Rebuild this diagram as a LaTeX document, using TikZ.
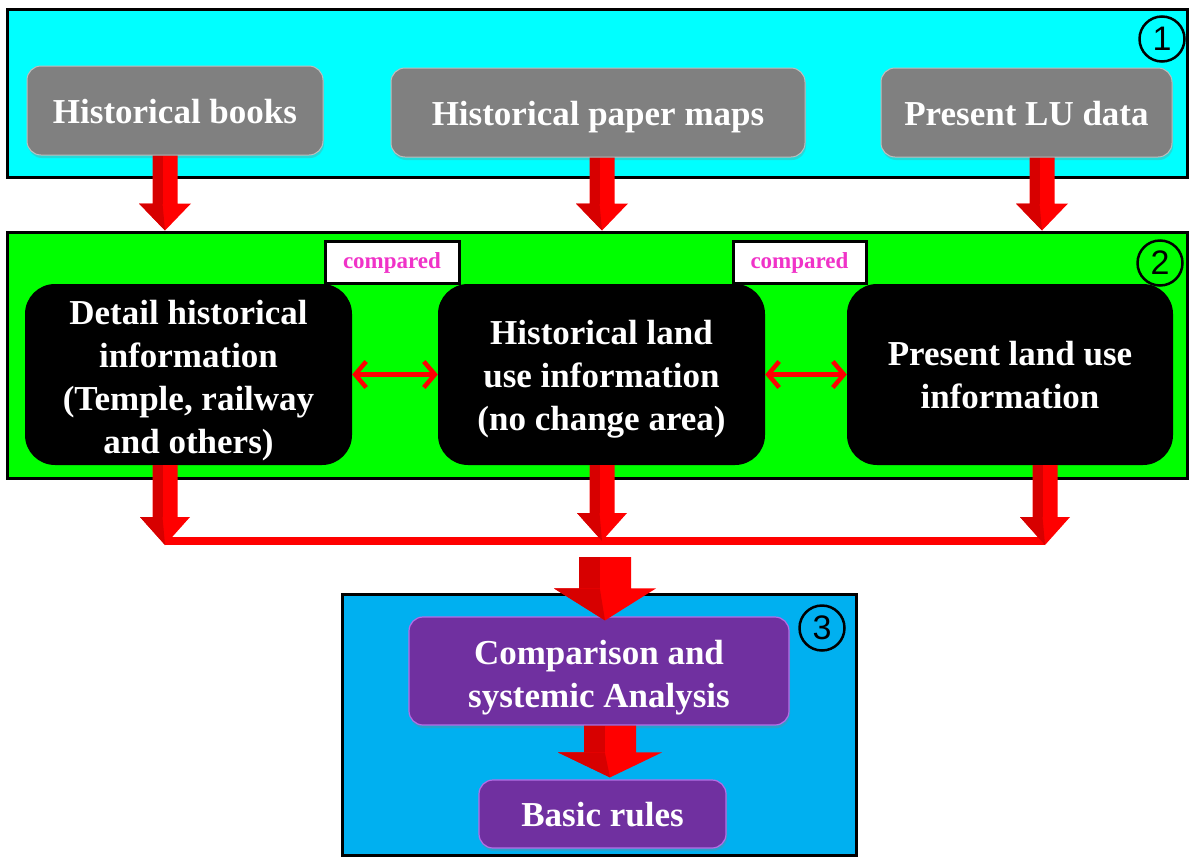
\documentclass[tikz,border=0pt]{standalone}
\usepackage{fontspec}
\setmainfont{Liberation Serif}
\newfontfamily\numfont{Liberation Sans}
\usetikzlibrary{calc,arrows.meta,shadows}
\definecolor{cyanbg}{RGB}{0,255,255}
\definecolor{greenbg}{RGB}{0,255,0}
\definecolor{bluebg}{RGB}{0,176,240}
\definecolor{graybox}{RGB}{128,128,128}
\definecolor{grayedge}{RGB}{190,190,190}
\definecolor{purplebox}{RGB}{112,48,160}
\definecolor{purpleedge}{RGB}{180,110,230}
\definecolor{pinktext}{RGB}{240,50,200}
\definecolor{arrowred}{RGB}{255,0,0}
\definecolor{arrowdark}{RGB}{215,0,0}
% block arrow: #1 start, #2 tip (same x), #3 half shaft, #4 half head, #5 head length
\newcommand\blockarr[5]{%
  \fill[arrowred] ($(#1)+(-#3,0)$) -- ($(#1)+(#3,0)$) -- ($(#2)+(#3,-#5)$) -- ($(#2)+(#4,-#5)$)
    -- (#2) -- ($(#2)+(-#4,-#5)$) -- ($(#2)+(-#3,-#5)$) -- cycle;
  \fill[arrowdark] ($(#1)+(-#3,0)$) -- ($(#1)+(-#3*0.2,0)$) -- ($(#2)+(-#3*0.2,-#5)$) -- ($(#2)+(-#3,-#5)$) -- cycle;
  \fill[arrowdark] ($(#2)+(-#4,-#5)$) -- ($(#2)+(-#3*0.2,-#5)$) -- (#2) -- cycle;
}
\begin{document}
\begin{tikzpicture}[x=1pt,y=-1pt,
  panel/.style={draw=black,line width=3pt,inner sep=0pt},
  txt/.style={font=\bfseries\fontsize{35}{43}\selectfont,align=center,text=white},
  oneline/.style={text height=33pt,text depth=8pt},
  graybtn/.style={txt,oneline,fill=graybox,draw=grayedge,line width=1pt,rounded corners=14pt,inner sep=0pt,
    drop shadow={opacity=0.3,shadow xshift=1pt,shadow yshift=-3pt}},
  blackbox/.style={fill=black,rounded corners=30pt,inner sep=0pt},
  purplebtn/.style={fill=purplebox,draw=purpleedge,line width=1.2pt,rounded corners=14pt,inner sep=0pt,
    drop shadow={opacity=0.3,shadow xshift=1pt,shadow yshift=-3pt}},
  cmpbox/.style={fill=white,draw=black,line width=3pt,inner sep=0pt,text=pinktext,
    font=\bfseries\fontsize{23}{26}\selectfont,text height=17pt,text depth=4pt},
  numcirc/.style={circle,draw=black,line width=2.5pt,minimum size=45pt,inner sep=0pt,
    font=\numfont\fontsize{34}{34}\selectfont},
  dbl/.style={draw=arrowred,line width=4.5pt,line cap=round,
    {Straight Barb[length=11pt,width=26pt]}-{Straight Barb[length=11pt,width=26pt]}},
  joinline/.style={draw=arrowred,line width=8pt}
]
\useasboundingbox (0,0) rectangle (1196,857);
% panels
\node[panel,fill=cyanbg,minimum width=1180pt,minimum height=168pt] (p1) at (597,93) {};
\node[panel,fill=greenbg,minimum width=1180pt,minimum height=246pt] (p2) at (597,355) {};
\node[panel,fill=bluebg,minimum width=514pt,minimum height=261pt] (p3) at (599,724.5) {};
% number circles
\node[numcirc] (n1) at (1162,39) {1};
\node[numcirc] (n2) at (1160,263) {2};
\node[numcirc] (n3) at (822,628) {3};
% level 1 boxes
\node[graybtn,minimum width=296pt,minimum height=89pt] (g1) at (175,110.5) {Historical books};
\node[graybtn,minimum width=414pt,minimum height=89pt] (g2) at (598,112.5) {Historical paper maps};
\node[graybtn,minimum width=291pt,minimum height=89pt] (g3) at (1026.5,112.5) {Present LU data};
% level 2 boxes
\node[blackbox,minimum width=327pt,minimum height=181pt] (b1) at (188.5,374.5) {};
\node[txt] (b1t) at ([yshift=-6pt]b1.center) {Detail historical\\information\\(Temple, railway\\and others)};
\node[blackbox,minimum width=327pt,minimum height=181pt] (b2) at (601.5,374.5) {};
\node[txt] (b2t) at ([yshift=-5pt]b2.center) {Historical land\\use information\\(no change area)};
\node[blackbox,minimum width=326pt,minimum height=181pt] (b3) at (1010,374.5) {};
\node[txt] (b3t) at ([yshift=-1pt]b3.center) {Present land use\\information};
\node[cmpbox,minimum width=134pt,minimum height=42pt] (c1) at (392,262) {compared};
\node[cmpbox,minimum width=133pt,minimum height=42pt] (c2) at (799.5,262) {compared};
% level 3 boxes
\node[purplebtn,minimum width=380pt,minimum height=108pt] (cmp) at (599,671) {};
\node[txt] (cmpt) at ([yshift=-7pt]cmp.center) {Comparison and\\systemic Analysis};
\node[purplebtn,txt,oneline,minimum width=247pt,minimum height=68pt] (basic) at (602.5,814) {Basic rules};
% double arrows
\draw[dbl] (b1.east) -- (b2.west);
\draw[dbl] (b2.east) -- (b3.west);
% arrows level 1 -> level 2
\coordinate (a1s) at ([xshift=-10pt]g1.south);
\coordinate (a1e) at (a1s |- p2.north);
\coordinate (a2s) at ([xshift=4pt]g2.south);
\coordinate (a2e) at (a2s |- p2.north);
\coordinate (a3s) at ([xshift=15.5pt]g3.south);
\coordinate (a3e) at (a3s |- p2.north);
\blockarr{a1s}{a1e}{12.5}{26}{27}
\blockarr{a2s}{a2e}{12.5}{26}{27}
\blockarr{a3s}{a3e}{12.5}{26}{27}
% arrows level 2 -> join line
\coordinate (jl) at (165,541);
\coordinate (jm) at (602,541);
\coordinate (jr) at (1045,541);
\draw[joinline] (jl) -- (jr);
\coordinate (d1s) at (b1.south -| jl);
\coordinate (d2s) at (b2.south -| jm);
\coordinate (d3s) at (b3.south -| jr);
\coordinate (d1e) at ($(jl)+(0,4)$);
\coordinate (d2e) at ($(jm)+(0,0)$);
\coordinate (d3e) at ($(jr)+(0,4)$);
\blockarr{d1s}{d1e}{12.5}{25}{28}
\blockarr{d2s}{d2e}{12.5}{25}{28}
\blockarr{d3s}{d3e}{12.5}{25}{28}
% big arrow into level 3
\coordinate (bs) at (605,557);
\coordinate (be) at ([yshift=-4pt]cmp.north -| bs);
\blockarr{bs}{be}{26}{51}{32}
% arrow comparison -> basic rules
\coordinate (cs) at (cmp.south -| 610,0);
\coordinate (ce) at ([yshift=2pt]basic.north -| cs);
\blockarr{cs}{ce}{26}{52}{25}
\end{tikzpicture}
\end{document}
